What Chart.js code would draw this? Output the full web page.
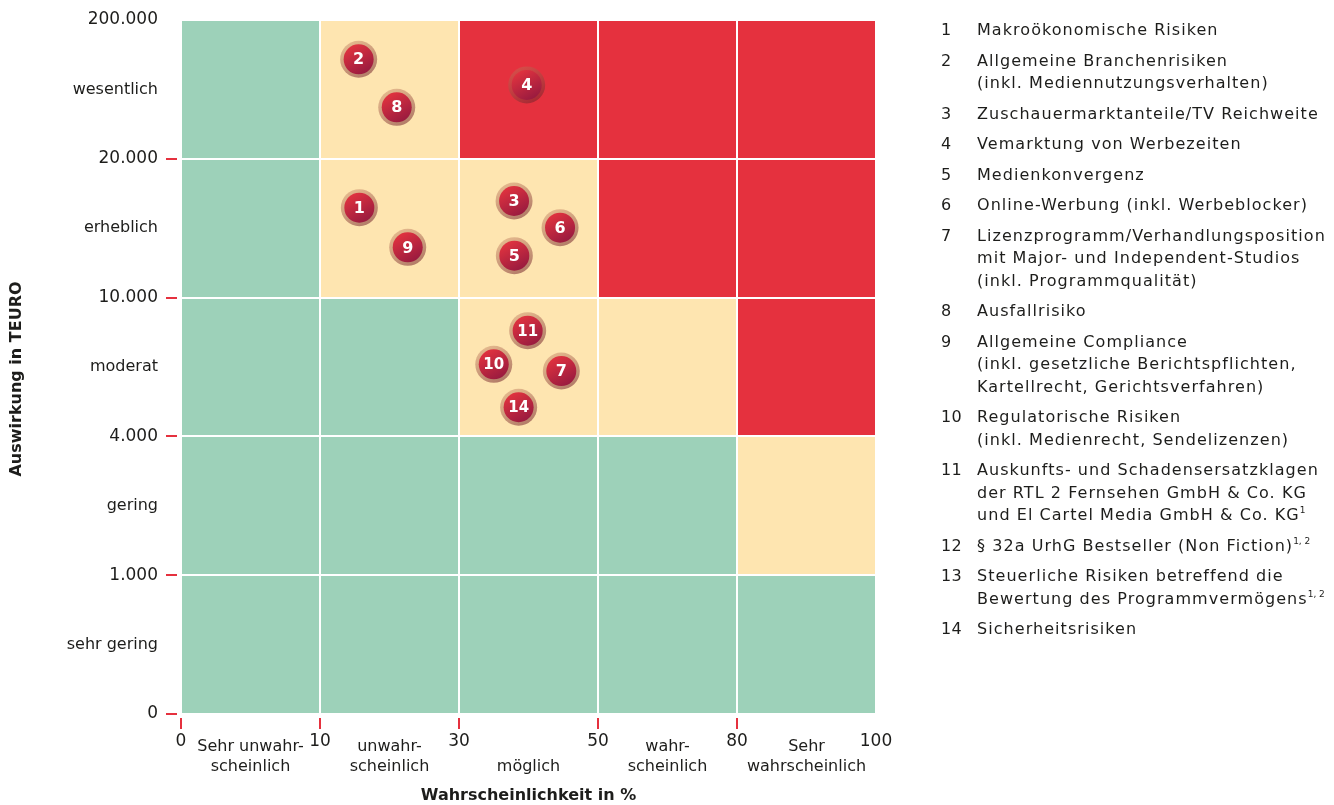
<!DOCTYPE html>
<html lang="de">
<head>
<meta charset="utf-8">
<title>Risikomatrix</title>
<script src="https://cdn.jsdelivr.net/npm/chart.js@4.4.1/dist/chart.umd.min.js"></script>
<style>
  html, body { margin: 0; padding: 0; background: #fff; }
  #wrap { position: relative; width: 1334px; height: 805px; overflow: hidden; }
  #matrix { position: absolute; left: 0; top: 0; }
  #risk-list {
    position: absolute; left: 941px; top: 19px; margin: 0; padding: 0; list-style: none;
    font-family: 'DejaVu Sans', sans-serif; font-size: 16px; line-height: 22.4px;
    color: #1d1d1b; letter-spacing: 1.05px;
  }
  #risk-list li { display: flex; margin-bottom: 8.2px; }
  #risk-list .nr { width: 36px; flex: none; letter-spacing: 0.3px; }
  #risk-list sup { font-size: 9px; line-height: 0; vertical-align: 7px; letter-spacing: 0; }
</style>
</head>
<body>
<div id="wrap">
  <canvas id="matrix" width="1334" height="805"></canvas>
  <ul id="risk-list"></ul>
</div>
<script>
// Achsen
const xTickLabels = ['0', '10', '30', '50', '80', '100'];
const yTickLabels = ['0', '1.000', '4.000', '10.000', '20.000', '200.000'];
const xCategories = [['Sehr unwahr-', 'scheinlich'], ['unwahr-', 'scheinlich'], ['', 'möglich'], ['wahr-', 'scheinlich'], ['Sehr', 'wahrscheinlich']];
const yCategories = ['sehr gering', 'gering', 'moderat', 'erheblich', 'wesentlich'];
const yTitle = 'Auswirkung in TEURO';

// Ampelstufe je Feld, Zeilen von unten (sehr gering) nach oben (wesentlich)
const levelRows = [
  [0, 0, 0, 0, 0],
  [0, 0, 0, 0, 1],
  [0, 0, 1, 1, 2],
  [0, 1, 1, 2, 2],
  [0, 1, 2, 2, 2]
];
const levelColors = ['#9dd1b9', '#fee5b0', '#e5313e'];

// Einzelrisiken in der Matrix (Feldkoordinaten, 0..5)
const riskIds = ['1', '2', '3', '4', '5', '6', '7', '8', '9', '10', '11', '14'];
const riskX = [1.283, 1.278, 2.396, 2.487, 2.398, 2.727, 2.736, 1.552, 1.631, 2.250, 2.494, 2.429];
const riskY = [3.648, 4.717, 3.696, 4.532, 3.302, 3.504, 2.471, 4.371, 3.362, 2.519, 2.762, 2.210];

// Legende
const legendIds = ['1', '2', '3', '4', '5', '6', '7', '8', '9', '10', '11', '12', '13', '14'];
const legendNames = [
  'Makroökonomische Risiken',
  'Allgemeine Branchenrisiken\n(inkl. Mediennutzungsverhalten)',
  'Zuschauermarktanteile/TV Reichweite',
  'Vemarktung von Werbezeiten',
  'Medienkonvergenz',
  'Online-Werbung (inkl. Werbeblocker)',
  'Lizenzprogramm/Verhandlungsposition\nmit Major- und Independent-Studios\n(inkl. Programmqualität)',
  'Ausfallrisiko',
  'Allgemeine Compliance\n(inkl. gesetzliche Berichtspflichten,\nKartellrecht, Gerichtsverfahren)',
  'Regulatorische Risiken\n(inkl. Medienrecht, Sendelizenzen)',
  'Auskunfts- und Schadensersatzklagen\nder RTL 2 Fernsehen GmbH & Co. KG\nund El Cartel Media GmbH & Co. KG',
  '§ 32a UrhG Bestseller (Non Fiction)',
  'Steuerliche Risiken betreffend die\nBewertung des Programmvermögens',
  'Sicherheitsrisiken'
];
const legendNotes = ['', '', '', '', '', '', '', '', '', '', '1', '1, 2', '1, 2', ''];

const FONT = "'DejaVu Sans', sans-serif";
const TEXT = '#1d1d1b';
const TICK_RED = '#e5313e';

function buildLegend() {
  const list = document.getElementById('risk-list');
  legendIds.forEach((id, i) => {
    const li = document.createElement('li');
    const nr = document.createElement('span');
    nr.className = 'nr';
    nr.textContent = id;
    const txt = document.createElement('span');
    legendNames[i].split('\n').forEach((line, k) => {
      if (k > 0) txt.appendChild(document.createElement('br'));
      txt.appendChild(document.createTextNode(line));
    });
    if (legendNotes[i]) {
      const sup = document.createElement('sup');
      sup.textContent = legendNotes[i];
      txt.appendChild(sup);
    }
    li.appendChild(nr);
    li.appendChild(txt);
    list.appendChild(li);
  });
}

// Felder, rote Achsenstriche, Klassenbeschriftungen und Nummern in den Kugeln
const matrixPlugin = {
  id: 'matrix',
  beforeDraw(chart) {
    const { ctx, scales: { x, y } } = chart;
    levelRows.forEach((row, r) => {
      row.forEach((lvl, c) => {
        const left = x.getPixelForValue(c);
        const right = x.getPixelForValue(c + 1);
        const top = y.getPixelForValue(r + 1);
        const bottom = y.getPixelForValue(r);
        ctx.fillStyle = levelColors[lvl];
        ctx.fillRect(left, top, right - left, bottom - top);
      });
    });
  },
  afterDatasetsDraw(chart) {
    const { ctx } = chart;
    const meta = chart.getDatasetMeta(0);
    ctx.save();
    ctx.fillStyle = '#fff';
    ctx.textAlign = 'center';
    ctx.textBaseline = 'middle';
    meta.data.forEach((pt, i) => {
      const id = riskIds[i];
      ctx.font = 'bold ' + (id.length > 1 ? 15 : 16) + 'px ' + FONT;
      ctx.fillText(id, pt.x, pt.y + 1);
    });
    ctx.restore();
  },
  afterDraw(chart) {
    const { ctx, chartArea, scales: { x, y } } = chart;
    ctx.save();
    ctx.strokeStyle = TICK_RED;
    ctx.lineWidth = 2;
    for (let v = 0; v < 5; v++) {
      const py = Math.round(y.getPixelForValue(v));
      ctx.beginPath();
      ctx.moveTo(chartArea.left - 15, py);
      ctx.lineTo(chartArea.left - 4, py);
      ctx.stroke();
      const px = Math.round(x.getPixelForValue(v));
      ctx.beginPath();
      ctx.moveTo(px, chartArea.bottom + 4);
      ctx.lineTo(px, chartArea.bottom + 15);
      ctx.stroke();
    }

    ctx.fillStyle = TEXT;
    ctx.font = '16px ' + FONT;
    ctx.textBaseline = 'middle';
    ctx.textAlign = 'right';
    yCategories.forEach((label, r) => {
      const py = (y.getPixelForValue(r) + y.getPixelForValue(r + 1)) / 2;
      ctx.fillText(label, chartArea.left - 23, py);
    });
    ctx.textAlign = 'center';
    xCategories.forEach((lines, c) => {
      const px = (x.getPixelForValue(c) + x.getPixelForValue(c + 1)) / 2;
      lines.forEach((line, k) => {
        ctx.fillText(line, px, chartArea.bottom + 33 + k * 20);
      });
    });

    // Titel der Auswirkungsachse, etwas unter der Mitte
    ctx.font = 'bold 16px ' + FONT;
    ctx.translate(17, (chartArea.top + chartArea.bottom) / 2 + 12);
    ctx.rotate(-Math.PI / 2);
    ctx.fillText(yTitle, 0, 0);
    ctx.restore();
  }
};

function bubbleFill(context) {
  const chart = context.chart;
  const { x, y } = chart.scales;
  if (!chart.chartArea || context.dataIndex === undefined) return '#c0243f';
  const px = x.getPixelForValue(riskX[context.dataIndex]);
  const py = y.getPixelForValue(riskY[context.dataIndex]);
  const g = chart.ctx.createLinearGradient(px - 8, py - 14, px + 8, py + 14);
  g.addColorStop(0, '#e2333f');
  g.addColorStop(1, '#971a3f');
  return g;
}

function haloFill(context) {
  const chart = context.chart;
  const { x, y } = chart.scales;
  if (!chart.chartArea || context.dataIndex === undefined) return 'rgba(150,80,60,0.4)';
  const px = x.getPixelForValue(riskX[context.dataIndex]);
  const py = y.getPixelForValue(riskY[context.dataIndex]);
  const g = chart.ctx.createLinearGradient(px - 10, py - 18, px + 10, py + 18);
  g.addColorStop(0, 'rgba(190,120,90,0.4)');
  g.addColorStop(1, 'rgba(110,30,40,0.55)');
  return g;
}

const points = riskX.map((v, i) => ({ x: v, y: riskY[i] }));

buildLegend();

new Chart(document.getElementById('matrix'), {
  type: 'scatter',
  data: {
    datasets: [
      {
        label: 'Risiken',
        data: points,
        pointRadius: 15,
        pointHoverRadius: 15,
        pointBorderWidth: 0,
        pointBackgroundColor: bubbleFill
      },
      {
        label: 'Schatten',
        data: points,
        pointRadius: 18.5,
        pointHoverRadius: 18.5,
        pointBorderWidth: 0,
        pointBackgroundColor: haloFill
      }
    ]
  },
  options: {
    responsive: false,
    animation: false,
    events: [],
    layout: { padding: { left: 0, top: 20, right: 458, bottom: 0 } },
    plugins: {
      legend: { display: false },
      tooltip: { enabled: false }
    },
    scales: {
      x: {
        type: 'linear',
        min: 0,
        max: 5,
        afterFit(scale) { scale.height = 91; },
        border: { display: false },
        grid: { color: '#ffffff', lineWidth: 2, drawTicks: false },
        ticks: {
          stepSize: 1,
          padding: 17,
          color: TEXT,
          font: { family: FONT, size: 17 },
          maxRotation: 0,
          callback: (v) => xTickLabels[v]
        },
        title: {
          display: true,
          text: 'Wahrscheinlichkeit in %',
          color: TEXT,
          font: { family: FONT, size: 16, weight: 'bold' },
          padding: { top: 0, bottom: 0 }
        }
      },
      y: {
        type: 'linear',
        min: 0,
        max: 5,
        afterFit(scale) {
          scale.width = 181;
          scale.paddingTop = 0;
          scale.paddingBottom = 0;
        },
        border: { display: false },
        grid: { color: '#ffffff', lineWidth: 2, drawTicks: false },
        ticks: {
          stepSize: 1,
          padding: 23,
          color: TEXT,
          font: { family: FONT, size: 17 },
          callback: (v) => yTickLabels[v]
        }
      }
    }
  },
  plugins: [matrixPlugin]
});
</script>
</body>
</html>
